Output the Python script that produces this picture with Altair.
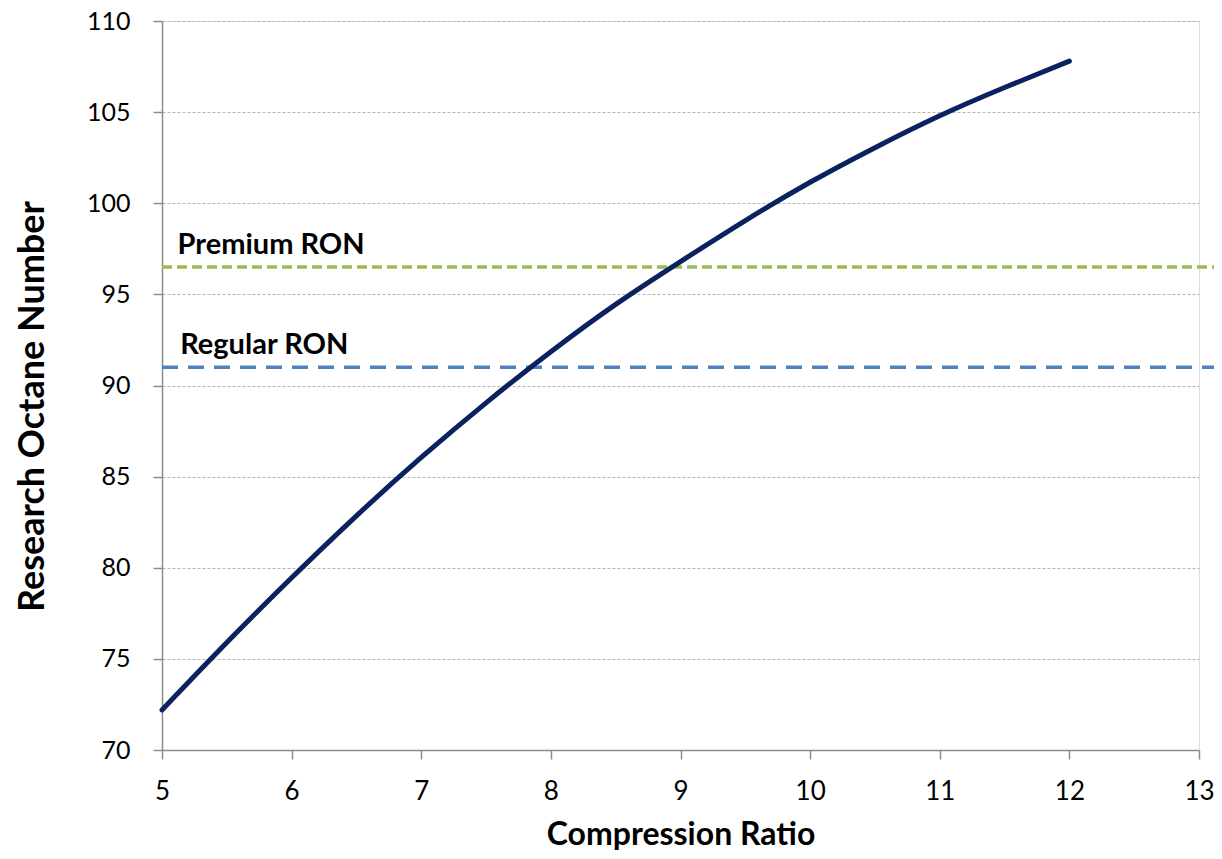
import altair as alt
import pandas as pd

# Curve
cr = [5.0, 5.5, 6.0, 6.5, 7.0, 7.5, 8.0, 8.5, 9.0, 9.5, 10.0, 10.5, 11.0, 11.5, 12.0]
ron = [72.2, 75.9, 79.45, 82.85, 86.05, 89.05, 91.85, 94.45, 96.8, 99.05, 101.15, 103.05, 104.8, 106.35, 107.8]

ref_names = ["Premium RON", "Regular RON"]
ref_values = [96.5, 91.0]
ref_x_start = [5.0, 5.0]
ref_x_end = [13.18, 13.18]
label_x = [5.12, 5.14]
label_y = [97.7, 92.2]

x_ticks = [5, 6, 7, 8, 9, 10, 11, 12, 13]
y_ticks = [70, 75, 80, 85, 90, 95, 100, 105, 110]

curve = pd.DataFrame({"cr": cr, "ron": ron})
refs = pd.DataFrame({"name": ref_names, "v": ref_values, "x1": ref_x_start, "x2": ref_x_end,
                     "lx": label_x, "ly": label_y})

FONT = "Lato"

xscale = alt.Scale(domain=[5, 13], nice=False, zero=False)
yscale = alt.Scale(domain=[70, 110], nice=False, zero=False)

xaxis = alt.Axis(values=x_ticks, title="Compression Ratio", grid=False, format="d",
                 labelFont=FONT, labelFontSize=26, labelColor="#000000", labelPadding=19,
                 titleFont=FONT, titleFontSize=32, titleFontWeight="bold", titleColor="#000000",
                 titlePadding=15, tickSize=9, tickColor="#8c8c8c", domainColor="#8c8c8c",
                 domainWidth=1.5, tickWidth=1.5, labelFlush=False)
yaxis = alt.Axis(values=y_ticks, title="Research Octane Number", grid=True, format="d",
                 gridColor="#b4b4b4", gridDash=[3, 2], gridWidth=1,
                 labelFont=FONT, labelFontSize=25, labelColor="#000000", labelPadding=23,
                 titleFont=FONT, titleFontSize=36, titleFontWeight="bold", titleColor="#000000",
                 titlePadding=35, titleY=385, tickSize=9, tickColor="#8c8c8c", domainColor="#8c8c8c",
                 domainWidth=1.5, tickWidth=1.5, labelFlush=False)

line = alt.Chart(curve).mark_line(color="#0a2260", strokeWidth=5, interpolate="natural",
                                  strokeCap="round").encode(
    x=alt.X("cr:Q", scale=xscale, axis=xaxis),
    y=alt.Y("ron:Q", scale=yscale, axis=yaxis),
)

prem = alt.Chart(refs[refs.name == "Premium RON"]).mark_rule(
    color="#9bbb59", strokeWidth=3.5, strokeDash=[10, 5], clip=False).encode(
    x=alt.X("x1:Q", scale=xscale), x2="x2:Q", y=alt.Y("v:Q", scale=yscale))
reg = alt.Chart(refs[refs.name == "Regular RON"]).mark_rule(
    color="#4f81bd", strokeWidth=3.5, strokeDash=[16, 10], clip=False).encode(
    x=alt.X("x1:Q", scale=xscale), x2="x2:Q", y=alt.Y("v:Q", scale=yscale))

labels = alt.Chart(refs).mark_text(align="left", baseline="middle", font=FONT,
                                   fontSize=29, fontWeight="bold", color="#000000").encode(
    x=alt.X("lx:Q", scale=xscale), y=alt.Y("ly:Q", scale=yscale), text="name:N")

chart = alt.layer(prem, reg, line, labels).properties(
    width=1037, height=729,
    autosize=alt.AutoSizeParams(type="none"),
    padding={"left": 154, "top": 13, "right": 15, "bottom": 101},
).configure_view(stroke=None).configure(background="#ffffff")

chart.save("out.html", embed_options={"renderer": "svg", "actions": False})
